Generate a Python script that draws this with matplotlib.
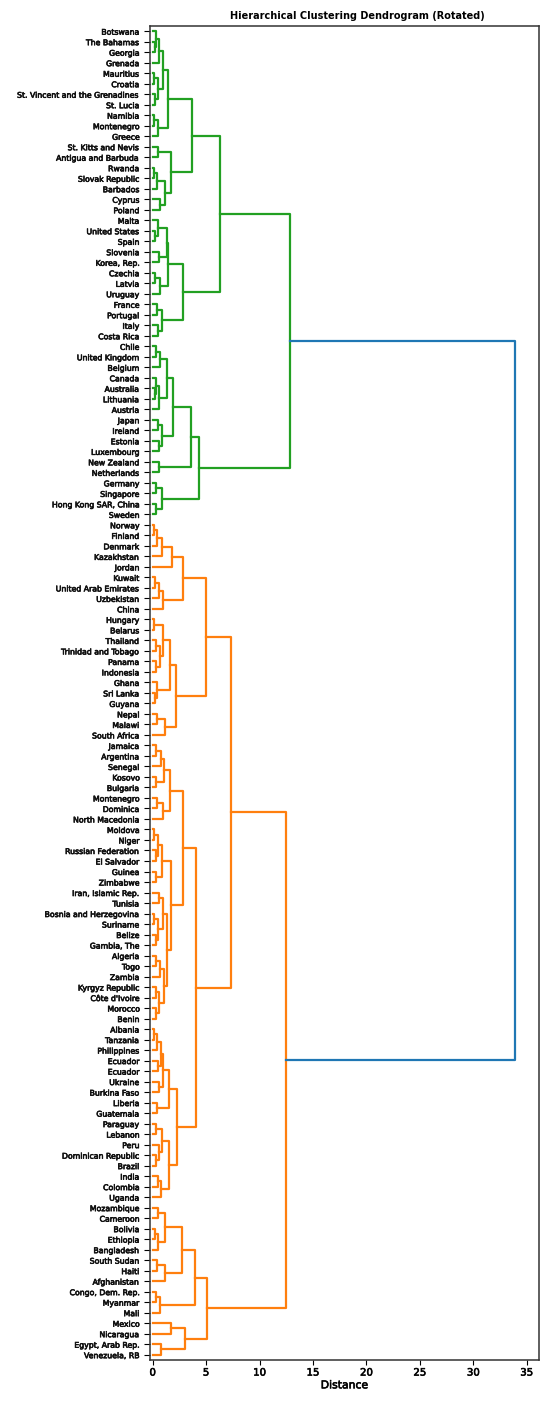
import matplotlib
matplotlib.use("Agg")
import matplotlib.pyplot as plt
import matplotlib.patheffects as pe

# ---------------- data: merge trees (height, upper child, lower child) ----------------
G1 = (1.4,
      (1.0,
       (0.55, (0.35, "Botswana", (0.2, "The Bahamas", "Georgia")), "Grenada"),
       (0.5, (0.15, "Mauritius", "Croatia"), (0.25, "St. Vincent and the Grenadines", "St. Lucia"))),
      (0.5, (0.12, "Namibia", "Montenegro"), "Greece"))
G2 = (1.7,
      (0.5, "St. Kitts and Nevis", "Antigua and Barbuda"),
      (1.15, (0.4, (0.1, "Rwanda", "Slovak Republic"), "Barbados"), (0.7, "Cyprus", "Poland")))
G3 = (2.87,
      (1.45,
       (1.3, (0.5, "Malta", (0.2, "United States", "Spain")), (0.6, "Slovenia", "Korea, Rep.")),
       (0.7, (0.2, "Czechia", "Latvia"), "Uruguay")),
      (0.9, (0.4, "France", "Portugal"), (0.5, "Italy", "Costa Rica")))
G4 = (1.93,
      (1.33,
       (0.7, (0.3, "Chile", "United Kingdom"), "Belgium"),
       (0.6, (0.35, "Canada", (0.2, "Australia", "Lithuania")), "Austria")),
      (0.9, (0.5, "Japan", "Ireland"), (0.55, "Estonia", "Luxembourg")))
G5 = (0.6, "New Zealand", "Netherlands")
G6 = (0.9, (0.3, "Germany", "Singapore"), (0.3, "Hong Kong SAR, China", "Sweden"))
GREEN = (12.85, (6.3, (3.65, G1, G2), G3), (4.37, (3.58, G4, G5), G6))

O1 = (2.8,
      (1.78, (0.84, (0.45, (0.12, "Norway", "Finland"), "Denmark"), "Kazakhstan"), "Jordan"),
      (1.0, (0.6, (0.25, "Kuwait", "United Arab Emirates"), "Uzbekistan"), "China"))
O2 = (2.18,
      (1.65,
       (1.0, (0.15, "Hungary", "Belarus"),
        (0.7, (0.3, "Thailand", "Trinidad and Tobago"), (0.3, "Panama", "Indonesia"))),
       (0.4, "Ghana", (0.2, "Sri Lanka", "Guyana"))),
      (1.2, (0.4, "Nepal", "Malawi"), "South Africa"))
O3A1 = (1.62,
        (1.1, (0.8, (0.3, "Jamaica", "Argentina"), "Senegal"), (0.35, "Kosovo", "Bulgaria")),
        (1.0, (0.4, "Montenegro", "Dominica"), "North Macedonia"))
O3MZ = (0.85,
        (0.5, (0.1, "Moldova", "Niger"), (0.3, "Russian Federation", "El Salvador")),
        (0.3, "Guinea", "Zimbabwe"))
O3IG = (0.95,
        (0.6, "Iran, Islamic Rep.", "Tunisia"),
        (0.5, (0.1, "Bosnia and Herzegovina", "Suriname"), (0.35, "Belize", "Gambia, The")))
O3AB = (1.05,
        (0.7, (0.3, "Algeria", "Togo"), "Zambia"),
        (0.6, (0.3, "Kyrgyz Republic", "Côte d'Ivoire"), (0.3, "Morocco", "Benin")))
O3B = (2.24,
       (1.55,
        (1.0, (0.75, (0.4, (0.1, "Albania", "Tanzania"), "Philippines"), (0.5, "Ecuador", "Ecuador")),
         (0.6, "Ukraine", "Burkina Faso")),
        (0.4, "Liberia", "Guatemala")),
       (1.5,
        (0.9, (0.3, "Paraguay", "Lebanon"), (0.6, "Peru", (0.3, "Dominican Republic", "Brazil"))),
        (0.8, (0.5, "India", "Colombia"), "Uganda")))
O4 = (5.05,
      (3.92,
       (2.7,
        (1.2, (0.5, "Mozambique", "Cameroon"), (0.5, (0.2, "Bolivia", "Ethiopia"), "Bangladesh")),
        (1.15, (0.4, "South Sudan", "Haiti"), "Afghanistan")),
       (0.7, (0.3, "Congo, Dem. Rep.", "Myanmar"), "Mali")),
      (3.05, (1.7, "Mexico", "Nicaragua"), (0.75, "Egypt, Arab Rep.", "Venezuela, RB")))
ORANGE = (12.44,
          (7.33, (4.96, O1, O2), (4.1, (2.8, O3A1, (1.71, O3MZ, (1.3, O3IG, O3AB))), O3B)),
          O4)
ROOT_HEIGHT = 33.9

cluster_colors = ["#22a022", "#ff7f0e"]   # green (top), orange (bottom)
link_above_color = "#1f77b4"

# ---------------- layout helpers ----------------
def leaves(node):
    if isinstance(node, str):
        return [node]
    return leaves(node[1]) + leaves(node[2])

tree = (ROOT_HEIGHT, GREEN, ORANGE)
labels = leaves(tree)
n = len(labels)
counter = [0]

fig = plt.figure(figsize=(5.5, 14.02), dpi=100)
ax = fig.add_axes([0.2727, 0.0300, 0.7073, 0.9515])

LW = 1.6

def draw(node, color):
    """Return (y, height) of node, drawing links."""
    if isinstance(node, str):
        i = counter[0]
        counter[0] += 1
        y = 10 * n - 5 - 10 * i
        return y, 0.0
    h, a, b = node
    ya, ha = draw(a, color)
    yb, hb = draw(b, color)
    ax.plot([ha, h, h, hb], [ya, ya, yb, yb], color=color, lw=LW)
    return (ya + yb) / 2.0, h

yg, hg = draw(GREEN, cluster_colors[0])
yo, ho = draw(ORANGE, cluster_colors[1])
ax.plot([hg, ROOT_HEIGHT, ROOT_HEIGHT, ho], [yg, yg, yo, yo], color=link_above_color, lw=LW)

heavy = [pe.withStroke(linewidth=0.45, foreground="#111111")]

ax.set_ylim(0, 10 * n)
ax.set_yticks([10 * n - 5 - 10 * i for i in range(n)])
ax.set_yticklabels(labels, fontsize=5.6, color="#111111")
ax.set_xlim(-0.25, 36.15)
ax.set_xticks([0, 5, 10, 15, 20, 25, 30, 35])
ax.tick_params(axis="x", labelsize=7.3, length=3.5, pad=2)
ax.tick_params(axis="y", length=4, pad=3.5)
for t in ax.get_yticklabels() + ax.get_xticklabels():
    t.set_path_effects(heavy)
for s in ax.spines.values():
    s.set_linewidth(1.1)
    s.set_color("#333333")
xl = ax.set_xlabel("Distance", fontsize=7.8, labelpad=2)
xl.set_path_effects(heavy)
ax.set_title("Hierarchical Clustering Dendrogram (Rotated)", fontsize=7.0, fontweight="bold",
             pad=5, x=0.532)

fig.savefig("out.png", dpi=100)
